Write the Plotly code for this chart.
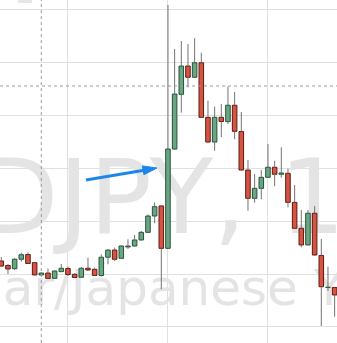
import plotly.graph_objects as go

# ---- data (USD/JPY candles) ----
opens = [110.623,110.580,110.550,110.639,110.684,110.607,110.491,110.509,110.459,110.522,
         110.552,110.497,110.469,110.554,110.544,110.486,110.658,110.726,110.648,110.755,
         110.764,110.821,110.893,111.047,111.142,110.742,111.679,112.195,112.462,112.356,
         112.493,111.978,111.745,111.978,111.937,112.092,111.844,111.481,111.214,111.308,
         111.412,111.507,111.441,111.450,111.176,110.931,110.774,111.073,110.675,110.373,
         110.373]
highs = [110.660,110.594,110.651,110.701,110.703,110.613,110.514,110.552,110.533,110.594,
         110.571,110.509,110.566,110.654,110.559,110.684,110.731,110.750,110.774,110.827,
         110.868,110.906,111.063,111.176,111.151,113.038,112.623,112.698,112.670,112.724,
         112.588,112.135,112.078,112.104,112.267,112.217,112.028,111.575,111.443,111.481,
         111.726,111.569,111.695,111.495,111.340,111.104,111.104,111.142,110.830,110.569,
         110.377]
lows = [110.566,110.500,110.538,110.616,110.594,110.486,110.486,110.453,110.458,110.519,
        110.481,110.462,110.465,110.528,110.481,110.475,110.592,110.623,110.646,110.736,
        110.759,110.816,110.892,110.978,110.356,110.741,111.670,112.022,112.261,112.354,
        111.972,111.741,111.663,111.790,111.915,111.771,111.476,111.097,111.173,111.205,
        111.406,111.330,111.408,111.129,110.929,110.752,110.769,110.675,110.009,110.340,
        110.097]
closes = [110.575,110.547,110.639,110.682,110.599,110.491,110.509,110.458,110.528,110.554,
          110.495,110.467,110.554,110.538,110.486,110.658,110.726,110.639,110.764,110.764,
          110.821,110.893,111.047,111.135,110.742,111.679,112.198,112.462,112.356,112.493,
          111.978,111.745,111.978,111.939,112.092,111.846,111.481,111.214,111.308,111.412,
          111.507,111.441,111.453,111.176,110.931,110.774,111.073,110.679,110.380,110.375,
          110.302]
grid_prices = [110.0, 110.5, 111.0, 111.5, 112.0, 112.5, 113.0]
grid_bars = [10, 25, 40]
cross_bar = 6
cross_price = 112.274
watermark_line1 = "USDJPY, 1D"
watermark_line2 = "Dollar/Japanese Yen"
legend_text = "O 110.373  H 110.377  L 110.097  C 110.302"

UP_FILL, UP_LINE = "#6BA583", "#225437"
DN_FILL, DN_LINE = "#D75442", "#5B1A13"
WICK = "#737373"
WM = "#e4e4e4"

n = len(opens)
idx = list(range(n))

fig = go.Figure()

# watermark on base axes (drawn beneath candles)
fig.add_trace(go.Scatter(x=[131], y=[207], mode="text", text=[watermark_line1],
                         textposition="middle center",
                         textfont=dict(family="DejaVu Sans", size=104, color=WM),
                         hoverinfo="skip", xaxis="x", yaxis="y"))
fig.add_trace(go.Scatter(x=[153], y=[292], mode="text", text=[watermark_line2],
                         textposition="middle center",
                         textfont=dict(family="DejaVu Sans", size=50, color=WM),
                         hoverinfo="skip", xaxis="x", yaxis="y"))

# wicks
wx, wy = [], []
for i in idx:
    top = max(opens[i], closes[i])
    bot = min(opens[i], closes[i])
    wx += [i, i, None, i, i, None]
    wy += [top, highs[i], None, lows[i], bot, None]
fig.add_trace(go.Scatter(x=wx, y=wy, mode="lines", line=dict(color=WICK, width=1),
                         hoverinfo="skip", xaxis="x2", yaxis="y2"))

# bodies
up = [i for i in idx if closes[i] >= opens[i]]
dn = [i for i in idx if closes[i] < opens[i]]
for sel, fill, line in ((up, UP_FILL, UP_LINE), (dn, DN_FILL, DN_LINE)):
    fig.add_trace(go.Bar(
        x=sel,
        base=[min(opens[i], closes[i]) for i in sel],
        y=[max(abs(closes[i] - opens[i]), 0.0005) for i in sel],
        width=0.68,
        marker=dict(color=fill, line=dict(color=line, width=1)),
        xaxis="x2", yaxis="y2", hoverinfo="skip"))

shapes = [
    dict(type="line", xref="x2", yref="paper", x0=cross_bar, x1=cross_bar, y0=0, y1=1,
         line=dict(color="#9a9a9a", width=1, dash="3px,3px")),
    dict(type="line", xref="paper", yref="y2", x0=0, x1=1, y0=cross_price, y1=cross_price,
         line=dict(color="#9a9a9a", width=1, dash="3px,3px")),
    # blue arrow
    dict(type="line", xref="x", yref="y", x0=86, y0=180, x1=144, y1=170.3,
         line=dict(color="#1E86E8", width=3)),
    dict(type="path", xref="x", yref="y",
         path="M157,168 L143.9,174.7 L142.4,165.9 Z",
         fillcolor="#1E86E8", line=dict(color="#1E86E8", width=1)),
    # legend box at top
    dict(type="rect", xref="x", yref="y", x0=18, x1=32, y0=-5, y1=3,
         fillcolor="#e6e6e6", line=dict(width=0)),
]

fig.add_trace(go.Scatter(x=[40], y=[-4], mode="text", text=[legend_text],
                         textposition="middle right",
                         textfont=dict(family="DejaVu Sans", size=13, color="#9fb3a6"),
                         hoverinfo="skip", xaxis="x", yaxis="y", cliponaxis=False))

fig.update_layout(
    width=337, height=343,
    margin=dict(l=0, r=0, t=0, b=0),
    paper_bgcolor="white", plot_bgcolor="white",
    showlegend=False, barmode="overlay",
    shapes=shapes,
    xaxis=dict(range=[0, 337], visible=False, showgrid=False, zeroline=False, fixedrange=True),
    yaxis=dict(range=[343, 0], visible=False, showgrid=False, zeroline=False, fixedrange=True),
    xaxis2=dict(range=[-0.195, 50.355], overlaying="x", anchor="y2",
                tickmode="array", tickvals=grid_bars, showticklabels=False, ticks="",
                showgrid=True, gridcolor="#e0e0e0", gridwidth=1, zeroline=False, showline=False),
    yaxis2=dict(range=[109.849, 113.085], overlaying="y", anchor="x2",
                tickmode="array", tickvals=grid_prices, showticklabels=False, ticks="",
                showgrid=True, gridcolor="#e0e0e0", gridwidth=1, zeroline=False, showline=False),
)

fig.write_html("out.html")
